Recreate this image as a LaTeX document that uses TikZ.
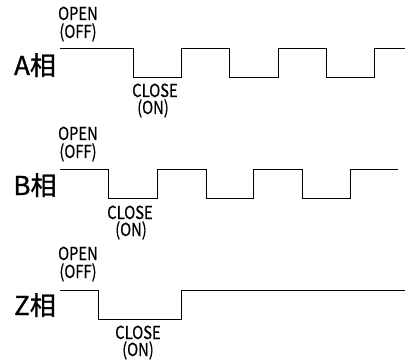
\documentclass[tikz,border=0pt]{standalone}
\usepackage{fontspec}
\setmainfont{Noto Sans CJK JP}
\newfontfamily\narrowfont[FakeStretch=0.82, FakeBold=0.6]{Noto Sans CJK JP}
\newfontfamily\phasefont[FakeBold=1]{Noto Sans CJK JP}

\begin{document}
\begin{tikzpicture}[x=1pt, y=-1pt, line width=0.9pt]
		\tikzstyle{every node}=[inner sep=0pt, anchor=base]
		\tikzstyle{phase}=[font=\phasefont\fontsize{26}{26}\selectfont]
		\tikzstyle{state}=[font=\narrowfont\fontsize{18}{18}\selectfont]
		\useasboundingbox (0,0) rectangle (406,363);

		% A phase
		\draw (35,75) node[phase] (A) {A相};
		\draw (78,20) node[state] (Aopen) {OPEN};
		\draw (78,38) node[state] (Aoff) {(OFF)};
		\draw (155,97) node[state] (Aclose) {CLOSE};
		\draw (153,114) node[state] (Aon) {(ON)};
		\draw (60,48) -- (133,48) -- (133,77) -- (181,77) -- (181,48) -- (229,48) -- (229,77)
			-- (278,77) -- (278,48) -- (326,48) -- (326,77) -- (374,77) -- (374,48) -- (405,48);

		% B phase
		\draw (35,195) node[phase] (B) {B相};
		\draw (78,140) node[state] (Bopen) {OPEN};
		\draw (78,158) node[state] (Boff) {(OFF)};
		\draw (130,219) node[state] (Bclose) {CLOSE};
		\draw (131,236) node[state] (Bon) {(ON)};
		\draw (60,169) -- (108,169) -- (108,198) -- (157,198) -- (157,169) -- (206,169) -- (206,198)
			-- (253,198) -- (253,169) -- (302,169) -- (302,198) -- (350,198) -- (350,169) -- (398,169);

		% Z phase
		\draw (35,315) node[phase] (Z) {Z相};
		\draw (78,260) node[state] (Zopen) {OPEN};
		\draw (78,278) node[state] (Zoff) {(OFF)};
		\draw (138,339) node[state] (Zclose) {CLOSE};
		\draw (138,356) node[state] (Zon) {(ON)};
		\draw (60,290) -- (98,290) -- (98,319) -- (181,319) -- (181,290) -- (405,290);
	\end{tikzpicture}
\end{document}
